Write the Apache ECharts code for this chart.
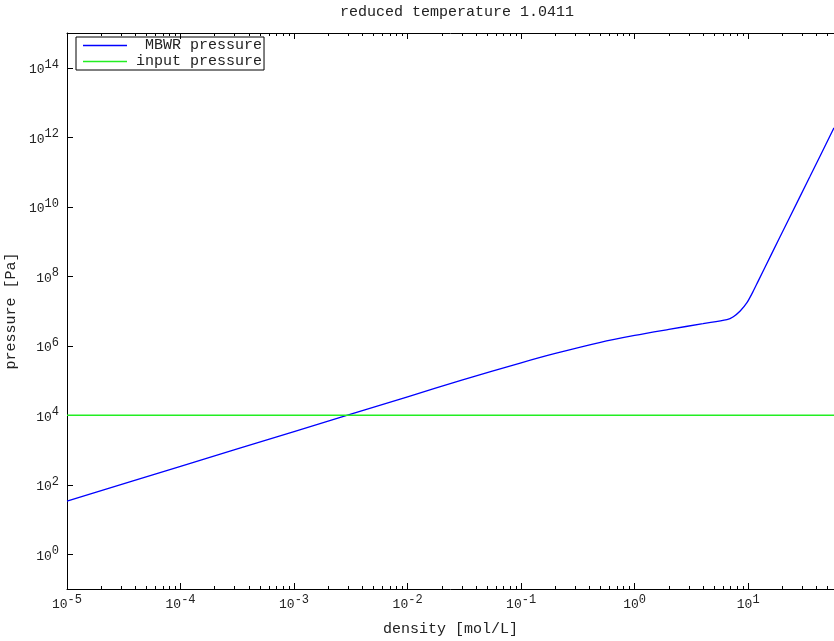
<!DOCTYPE html>
<html>
<head>
<meta charset="utf-8">
<script src="https://cdn.jsdelivr.net/npm/echarts@6/dist/echarts.min.js"></script>
<style>
  html, body { margin: 0; padding: 0; background: #fff; }
  #chart { width: 834px; height: 641px; }
</style>
</head>
<body>
<div id="chart"></div>
<script>
// density [mol/L] and MBWR pressure [Pa]
const density = [1e-5, 1e-4, 1e-3, 1e-2, 3e-2, 0.1, 0.2, 0.5, 1, 2, 4, 6.5, 7.4, 8.5, 9.75, 11, 12.25, 16, 23, 35, 57];
const mbwrPressure = [34, 340, 3400, 3.4e4, 1.02e5, 3.24e5, 6.03e5, 1.26e6, 1.98e6, 2.95e6, 4.33e6, 5.65e6, 6.85e6, 1.0e7, 1.74e7, 3.55e7, 7.24e7, 4.27e8, 4.68e9, 7.41e10, 1.86e12];
const inputPressure = 1e4;
const densityRange = [1e-5, 57];
const pressureRange = [1e-1, 1e15];

// ticks (as powers of ten)
const xTickExps = [-5, -4, -3, -2, -1, 0, 1];
const yTickExps = [0, 2, 4, 6, 8, 10, 12, 14];
const minorMantissas = [2, 3, 4, 5, 6, 7, 8, 9];

const FONT = 'Liberation Mono';
const xMin = Math.log10(densityRange[0]);
const xMax = Math.log10(densityRange[1]);
const yMin = Math.log10(pressureRange[0]);
const yMax = Math.log10(pressureRange[1]);

const xMinorTicks = [];
xTickExps.forEach(function (e) {
  minorMantissas.forEach(function (m) {
    const v = e + Math.log10(m);
    if (v < xMax) xMinorTicks.push(v);
  });
});

const toLog = function (xs, ys) {
  return xs.map(function (x, i) { return [Math.log10(x), Math.log10(ys[i])]; });
};

// "10" with a raised exponent
const powRich = {
  b: { fontFamily: FONT, fontSize: 13, color: '#222', lineHeight: 13, padding: [4, 0, 0, 0] },
  s: { fontFamily: FONT, fontSize: 12, color: '#222', lineHeight: 11, padding: [0, 0, 6, 0] }
};
const powLabel = function (v) {
  return '{b|10}{s|' + Math.round(v) + '}';
};

const chart = echarts.init(document.getElementById('chart'));

const extraX = function (position, values, len, line) {
  return {
    type: 'value', position: position, min: xMin, max: xMax,
    axisLine: { show: line, onZero: false, lineStyle: { color: '#000', width: 1 } },
    axisTick: { show: true, inside: true, length: len, customValues: values, lineStyle: { color: '#000' } },
    axisLabel: { show: false },
    splitLine: { show: false }
  };
};

chart.setOption({
  animation: false,
  backgroundColor: '#fff',
  title: {
    text: 'reduced temperature 1.0411',
    left: 452, top: 0, textAlign: 'center',
    textStyle: { fontFamily: FONT, fontSize: 15, fontWeight: 'normal', color: '#222' }
  },
  legend: {
    orient: 'vertical',
    left: 76, top: 37,
    padding: [1, 2, 1, 7],
    itemGap: 1,
    itemWidth: 44, itemHeight: 1.5,
    icon: 'rect',
    borderColor: '#000', borderWidth: 1,
    textStyle: { fontFamily: FONT, fontSize: 15, color: '#222', lineHeight: 15, padding: [0, 0, 0, 4] },
    data: [' MBWR pressure', 'input pressure']
  },
  grid: { left: 67, right: 0, top: 33, bottom: 52, outerBoundsMode: 'none' },
  xAxis: [
    {
      type: 'value', position: 'bottom', min: xMin, max: xMax,
      name: 'density [mol/L]', nameLocation: 'middle', nameGap: 33,
      nameTextStyle: { fontFamily: FONT, fontSize: 15, color: '#222' },
      axisLine: { show: true, onZero: false, lineStyle: { color: '#000', width: 1 } },
      axisTick: { show: true, inside: true, length: 6, customValues: xTickExps, lineStyle: { color: '#000' } },
      axisLabel: { customValues: xTickExps, formatter: powLabel, rich: powRich, margin: 7 },
      splitLine: { show: false }
    },
    extraX('bottom', xMinorTicks, 3, false),
    extraX('top', xTickExps, 6, true),
    extraX('top', xMinorTicks, 3, false)
  ],
  yAxis: {
    type: 'value', min: yMin, max: yMax,
    name: 'pressure [Pa]', nameLocation: 'middle', nameGap: 42,
    nameTextStyle: { fontFamily: FONT, fontSize: 15, color: '#222' },
    axisLine: { show: true, onZero: false, lineStyle: { color: '#000', width: 1 } },
    axisTick: { show: true, inside: true, length: 6, customValues: yTickExps, lineStyle: { color: '#000' } },
    axisLabel: { customValues: yTickExps, formatter: powLabel, rich: powRich, margin: 8 },
    splitLine: { show: false }
  },
  series: [
    {
      name: ' MBWR pressure',
      type: 'line',
      xAxisIndex: 0,
      data: toLog(density, mbwrPressure),
      smooth: 0.3,
      showSymbol: false,
      color: '#0000ff',
      lineStyle: { color: '#0000ff', width: 1.3 }
    },
    {
      name: 'input pressure',
      type: 'line',
      xAxisIndex: 0,
      data: toLog(densityRange, [inputPressure, inputPressure]),
      showSymbol: false,
      color: '#22ee22',
      lineStyle: { color: '#22ee22', width: 1.6 }
    }
  ]
});
</script>
</body>
</html>
